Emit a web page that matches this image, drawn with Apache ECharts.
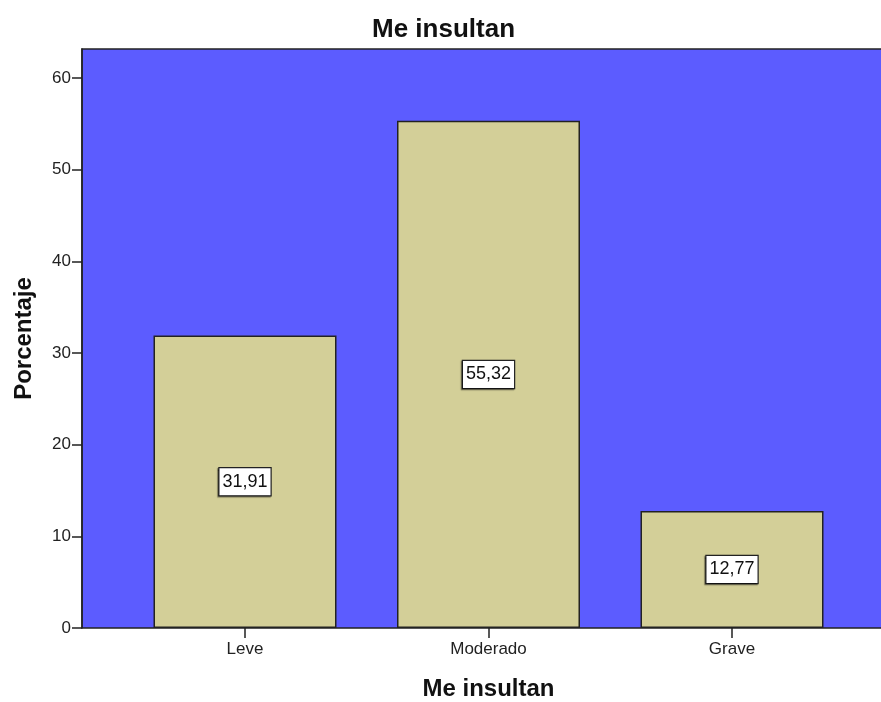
<!DOCTYPE html>
<html>
<head>
<meta charset="utf-8">
<script src="https://cdn.jsdelivr.net/npm/echarts@6/dist/echarts.min.js"></script>
<style>
html,body{margin:0;padding:0;background:#fff;}
#chart{width:881px;height:702px;}
</style>
</head>
<body>
<div id="chart"></div>
<script>
const categories = ['Leve', 'Moderado', 'Grave'];
const percentages = [31.91, 55.32, 12.77];
const yTicks = [0, 10, 20, 30, 40, 50, 60];
const chartTitle = 'Me insultan';
const xAxisTitle = 'Me insultan';
const yAxisTitle = 'Porcentaje';

const FONT = "'Liberation Sans', Arial, sans-serif";
const Y_MAX = 63.16;

const chart = echarts.init(document.getElementById('chart'), null, {renderer: 'canvas'});
chart.setOption({
  animation: false,
  backgroundColor: '#ffffff',
  title: {
    text: chartTitle,
    left: 372,
    top: 17,
    padding: 0,
    textStyle: {fontFamily: FONT, fontSize: 26, fontWeight: 'bold', color: '#111'}
  },
  grid: [
    {left: 82, right: -3, top: 49, bottom: 74, outerBoundsMode: 'none', containLabel: false,
     show: true, backgroundColor: '#5c5cff', borderColor: '#222', borderWidth: 1.5},
    {left: 123.25, right: 27.25, top: 49, bottom: 74, outerBoundsMode: 'none', containLabel: false}
  ],
  xAxis: [
    {gridIndex: 0, type: 'category', data: categories, show: false},
    {
      gridIndex: 1, type: 'category', data: categories,
      axisLine: {show: false},
      axisTick: {show: true, alignWithLabel: true, length: 10, lineStyle: {color: '#222', width: 1.5}},
      axisLabel: {fontFamily: FONT, fontSize: 17, color: '#222', margin: 13},
      name: xAxisTitle, nameLocation: 'middle', nameGap: 49,
      nameTextStyle: {fontFamily: FONT, fontSize: 24, fontWeight: 'bold', color: '#111'}
    }
  ],
  yAxis: [
    {
      gridIndex: 0, type: 'value', min: 0, max: Y_MAX, interval: 10,
      splitLine: {show: false},
      axisLine: {show: true, lineStyle: {color: '#222', width: 1.5}},
      axisTick: {show: true, length: 10, customValues: yTicks, lineStyle: {color: '#222', width: 1.5}},
      axisLabel: {
        fontFamily: FONT, fontSize: 17, color: '#222', margin: 11,
        customValues: yTicks
      },
      name: yAxisTitle, nameLocation: 'middle', nameGap: 46, nameRotate: 90,
      nameTextStyle: {fontFamily: FONT, fontSize: 24, fontWeight: 'bold', color: '#111'}
    },
    {gridIndex: 1, type: 'value', min: 0, max: Y_MAX, interval: 10, show: false}
  ],
  series: [{
    type: 'bar',
    xAxisIndex: 1, yAxisIndex: 1,
    data: percentages,
    barWidth: 183,
    itemStyle: {color: '#d3cf98', borderColor: '#222', borderWidth: 1.5},
    label: {
      show: true, position: 'inside',
      formatter: p => p.value.toFixed(2).replace('.', ','),
      fontFamily: FONT, fontSize: 18, color: '#111',
      backgroundColor: '#ffffff', borderColor: '#222', borderWidth: 1.2,
      padding: [5, 3, 4, 3],
      shadowColor: 'rgba(0,0,0,0.45)', shadowOffsetX: -1, shadowOffsetY: 1, shadowBlur: 1
    }
  }]
});
</script>
</body>
</html>
